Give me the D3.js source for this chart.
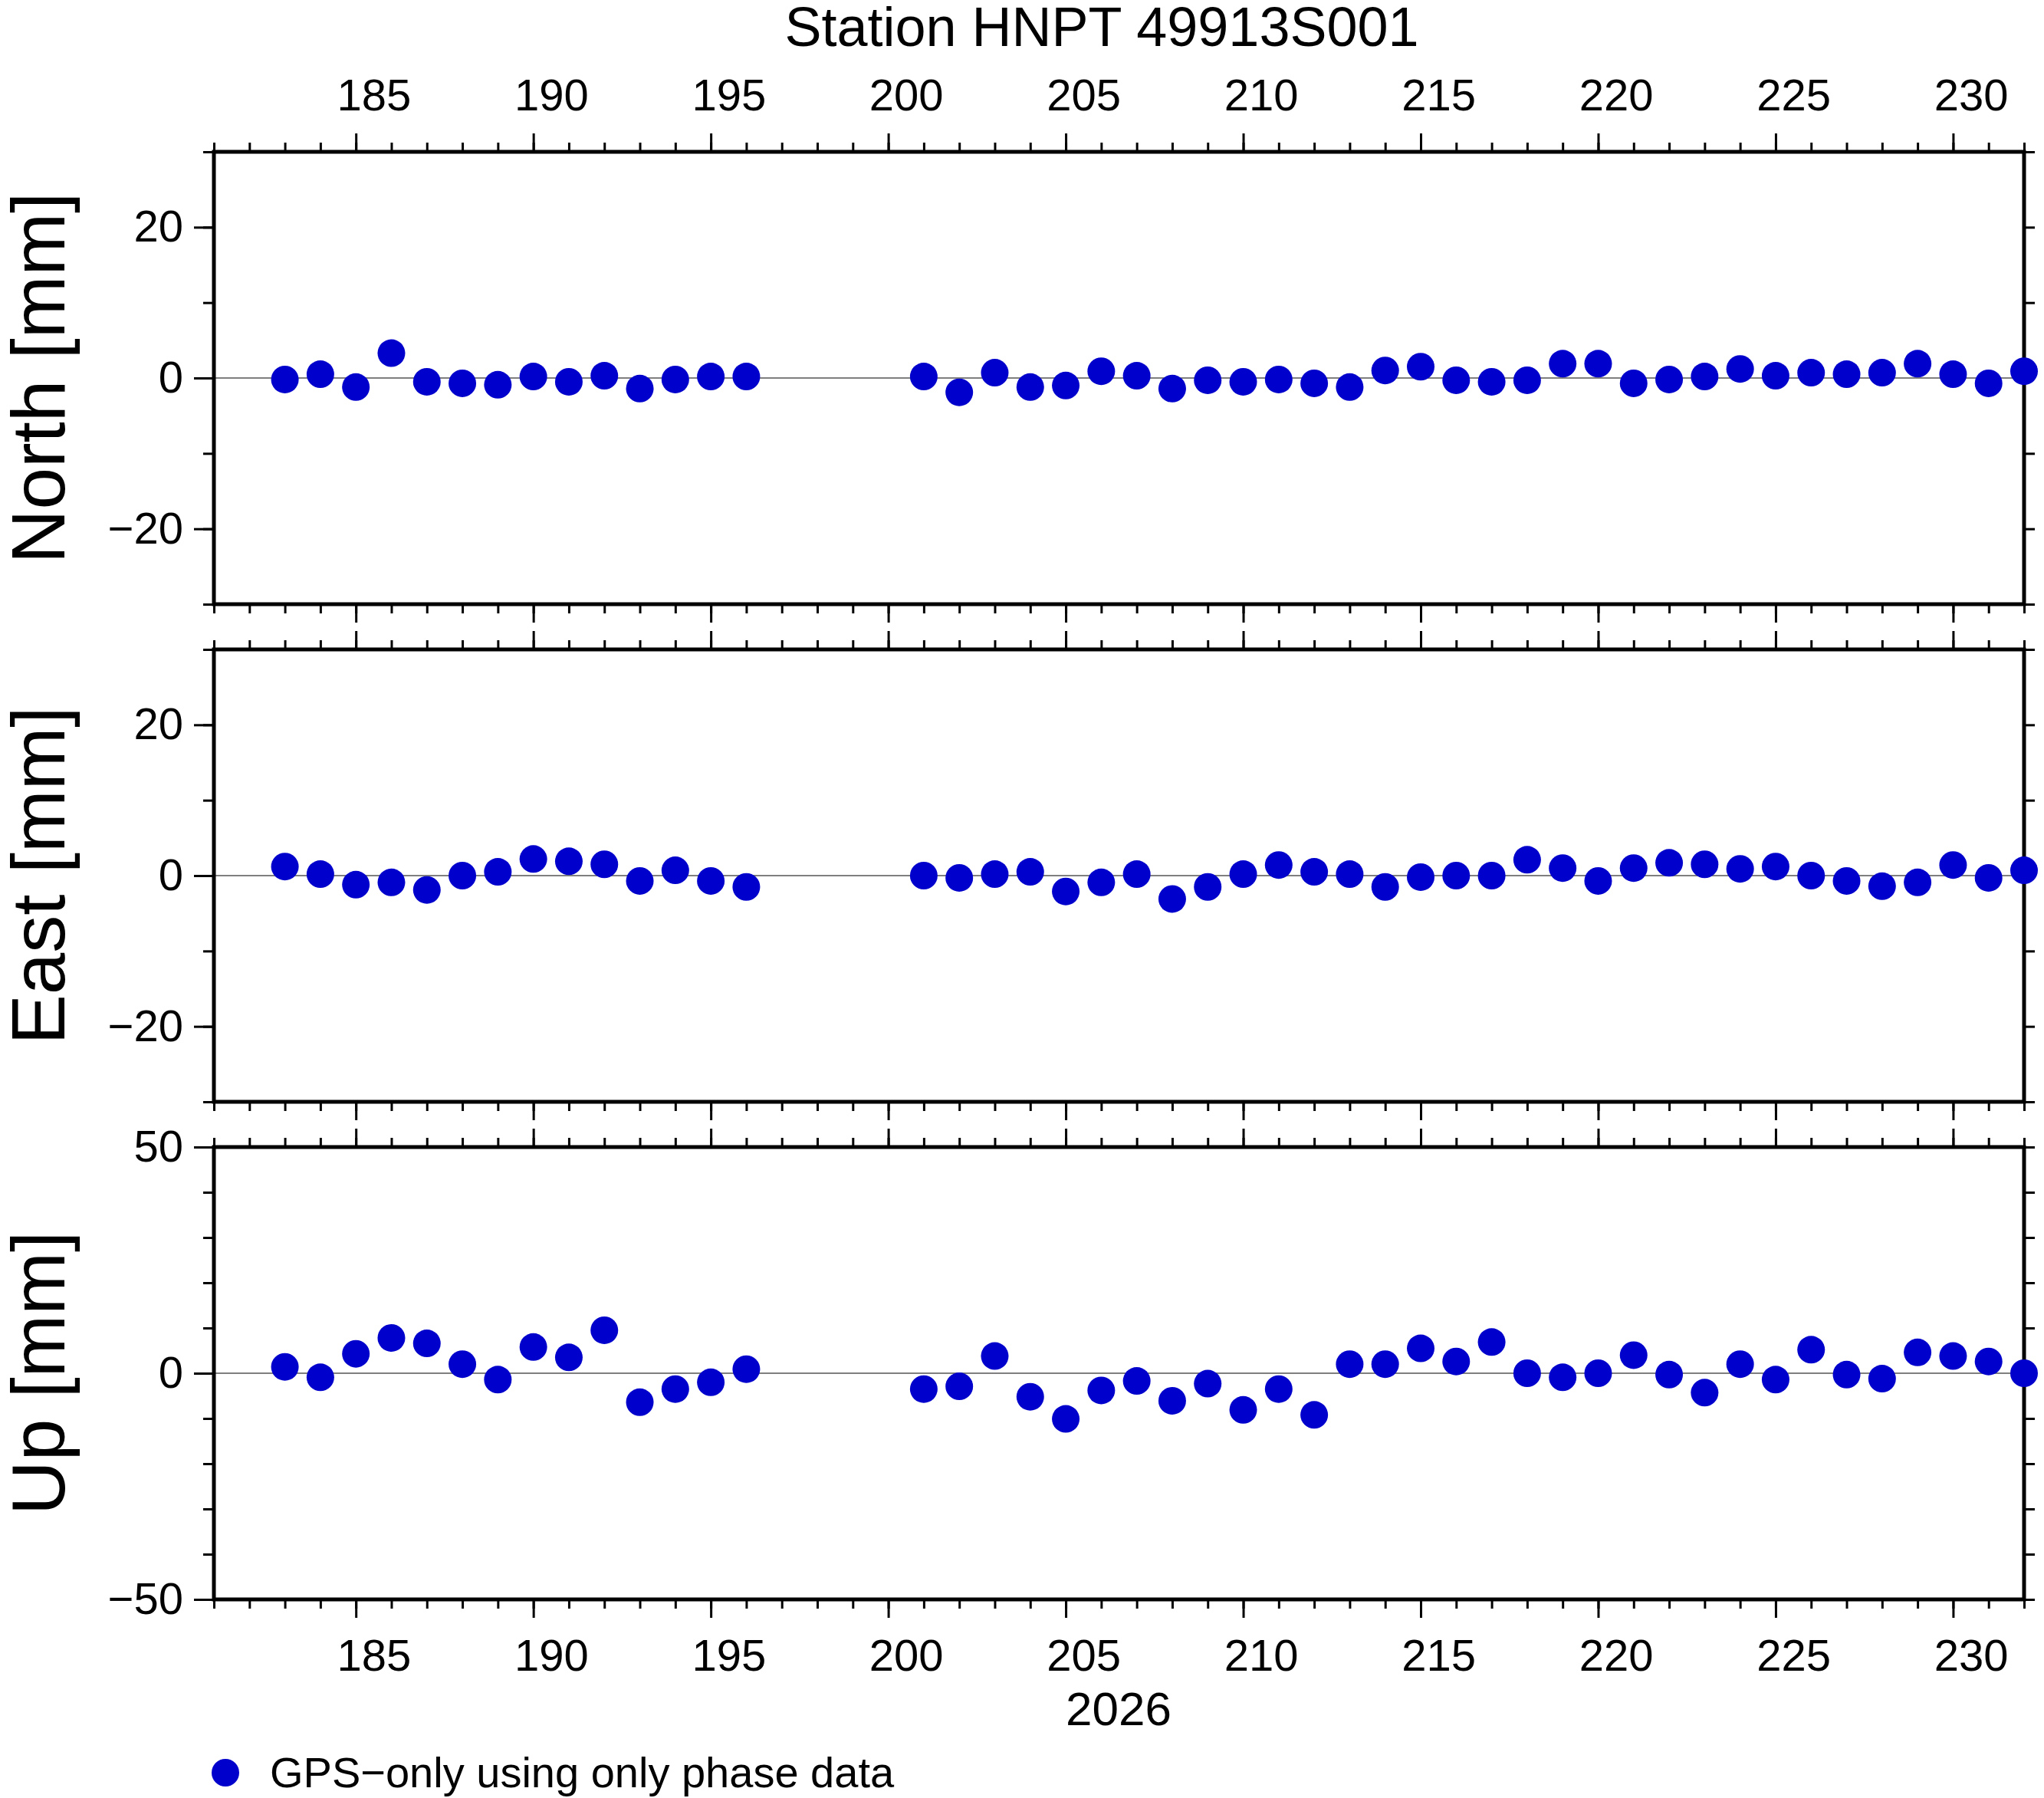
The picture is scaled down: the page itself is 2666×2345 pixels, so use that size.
<!DOCTYPE html>
<html><head><meta charset="utf-8">
<script src="https://cdn.jsdelivr.net/npm/d3@7"></script>
<style>body{margin:0;background:#fff}text{font-family:"Liberation Sans",Arial,sans-serif}</style>
</head><body>
<script>
// days of year 2026
var days1 = [183,184,185,186,187,188,189,190,191,192,193,194,195,196]
var days2 = [201,202,203,204,205,206,207,208,209,210,211,212,213,214,215,216,217,218,219,220,221,222,223,224,225,226,227,228,229,230,231,232]
var days = days1.concat(days2)

var north = [-0.2,0.5,-1.2,3.3,-0.5,-0.7,-0.9,0.2,-0.5,0.3,-1.4,-0.2,0.2,0.2,
  0.2,-1.9,0.7,-1.2,-1.0,0.9,0.3,-1.4,-0.3,-0.5,-0.2,-0.7,-1.2,1.0,1.5,-0.3,-0.5,-0.3,1.9,1.9,-0.7,-0.2,0.2,1.2,0.3,0.7,0.5,0.7,1.9,0.5,-0.7,0.9]
var east = [1.2,0.2,-1.2,-0.9,-1.9,0,0.5,2.2,1.9,1.5,-0.7,0.7,-0.7,-1.5,
  0,-0.3,0.2,0.5,-2.1,-0.9,0.2,-3.1,-1.5,0.2,1.4,0.5,0.2,-1.5,-0.2,0,0,2.1,1.0,-0.7,1.0,1.7,1.5,0.9,1.2,0,-0.7,-1.4,-0.9,1.4,-0.3,0.7]
var up = [1.4,-0.9,4.3,7.8,6.6,2.0,-1.4,5.8,3.5,9.5,-6.4,-3.5,-2.0,0.9,
  -3.5,-2.9,3.8,-5.2,-10.1,-3.8,-1.7,-6.1,-2.3,-8.1,-3.5,-9.2,2.0,2.0,5.5,2.6,6.9,0,-0.9,0,4.0,-0.3,-4.3,2.0,-1.4,5.2,-0.3,-1.2,4.6,3.8,2.6,0]

var xTicks = [185,190,195,200,205,210,215,220,225,230]
var panels = [
  {name: "North [mm]", values: north, domain: [-30,30], major: [-20,0,20], minor: d3.range(-30,31,10)},
  {name: "East [mm]", values: east, domain: [-30,30], major: [-20,0,20], minor: d3.range(-30,31,10)},
  {name: "Up [mm]", values: up, domain: [-50,50], major: [-50,0,50], minor: d3.range(-50,51,10)}
]
var title = "Station HNPT 49913S001"

var W = 2666, H = 2345
var left = 279, right = 2640
var tops = [198, 847, 1496], ph = 590
var fmt = function(d){ return String(d).replace("-", "\u2212") }

var svg = d3.select("body").append("svg").attr("width", W).attr("height", H)

var x = d3.scaleLinear().domain([181,232]).range([left, right])
var halfDay = x(182) - x(181)

svg.append("text").attr("x", 1437).attr("y", 60).attr("text-anchor","middle")
  .style("font-size","72px").text(title)

panels.forEach(function(p, k){
  var g = svg.append("g").attr("transform","translate(0," + tops[k] + ")")
  var y = d3.scaleLinear().domain(p.domain).range([ph, 0])

  // x ticks top & bottom
  var minorX = d3.range(181,233)
  g.append("g").call(d3.axisTop(x).tickValues(minorX).tickSize(12).tickFormat(""))
  g.append("g").attr("class","xl").call(d3.axisTop(x).tickValues(xTicks).tickSize(24)
    .tickFormat(k == 0 ? null : "").tickPadding(30))
  g.append("g").attr("transform","translate(0," + ph + ")")
    .call(d3.axisBottom(x).tickValues(minorX).tickSize(12).tickFormat(""))
  g.append("g").attr("class","xl").attr("transform","translate(0," + ph + ")")
    .call(d3.axisBottom(x).tickValues(xTicks).tickSize(24)
    .tickFormat(k == 2 ? null : "").tickPadding(28))

  // y ticks
  g.append("g").attr("transform","translate(" + left + ",0)")
    .call(d3.axisLeft(y).tickValues(p.minor).tickSize(14).tickFormat(""))
  g.append("g").attr("transform","translate(" + left + ",0)")
    .call(d3.axisLeft(y).tickValues(p.major).tickSize(26).tickFormat(fmt).tickPadding(14))
  g.append("g").attr("transform","translate(" + right + ",0)")
    .call(d3.axisRight(y).tickValues(p.minor).tickSize(14).tickFormat(""))

  g.selectAll(".domain").remove()
  g.selectAll(".tick line").attr("stroke","#000").attr("stroke-width",3)
  g.selectAll(".tick text").style("font-size","58px").attr("fill","#000")
  // day labels sit in the middle of the day
  g.selectAll(".xl .tick text").attr("dx", halfDay / 2)

  // zero line
  g.append("line").attr("x1",left).attr("x2",right).attr("y1",y(0)).attr("y2",y(0))
    .attr("stroke","#555").attr("stroke-width",1.5)

  g.append("rect").attr("x",left).attr("y",0).attr("width",right-left).attr("height",ph)
    .attr("fill","none").attr("stroke","#000").attr("stroke-width",5)

  g.selectAll("circle").data(p.values).enter().append("circle")
    .attr("cx", function(d,i){ return x(days[i]) })
    .attr("cy", function(d){ return y(d) })
    .attr("r", 18).attr("fill","#0000cc")

  g.append("text").attr("transform","translate(84," + ph/2 + ")rotate(-90)")
    .attr("text-anchor","middle").style("font-size","98px").text(p.name)
})

svg.append("text").attr("x",1459).attr("y",2250).attr("text-anchor","middle")
  .style("font-size","62px").text("2026")

svg.append("circle").attr("cx",294).attr("cy",2312).attr("r",18).attr("fill","#0000cc")
svg.append("text").attr("x",352).attr("y",2331).style("font-size","56px")
  .text("GPS\u2212only using only phase data")
</script>
</body></html>
